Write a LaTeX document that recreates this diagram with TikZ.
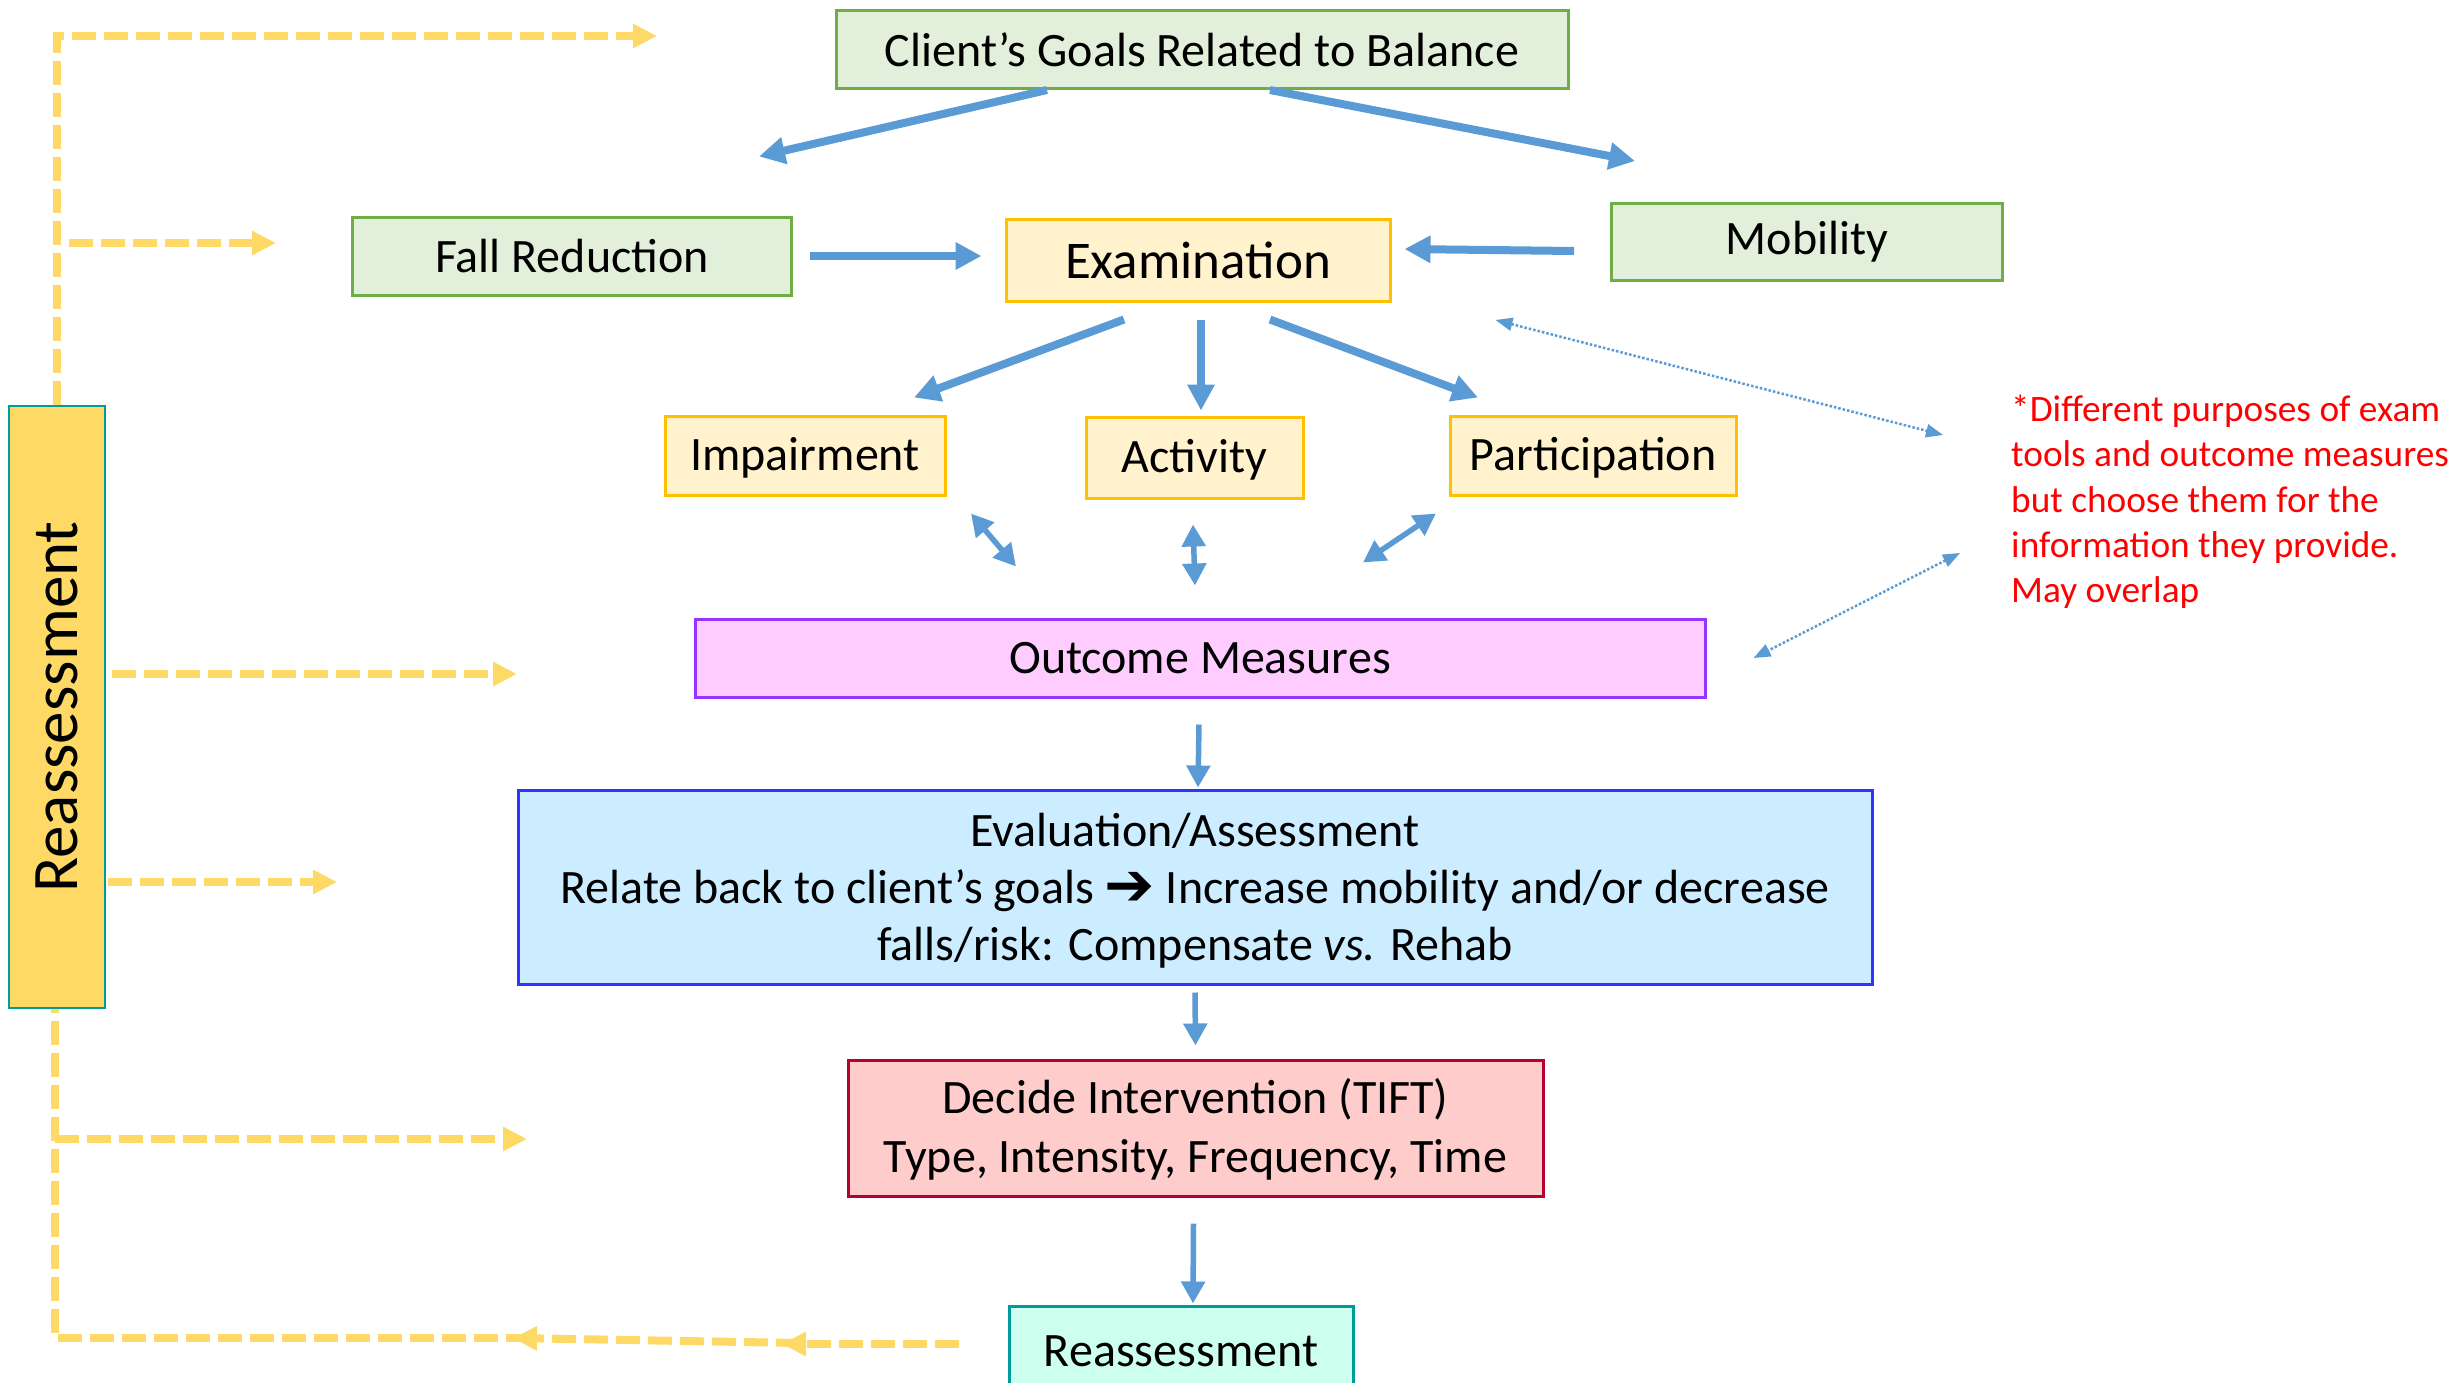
\documentclass[tikz,border=0pt]{standalone}
\usepackage{fontspec}
\usepackage{graphicx}
\setmainfont{Carlito}
\newfontfamily\dejavu{DejaVu Sans}
\usetikzlibrary{arrows.meta,calc}
\definecolor{gfill}{HTML}{E2EFDA}
\definecolor{gdraw}{HTML}{70AD47}
\definecolor{yfill}{HTML}{FFF2CC}
\definecolor{ydraw}{HTML}{FFC000}
\definecolor{pfill}{HTML}{FFCCFF}
\definecolor{pdraw}{HTML}{9933FF}
\definecolor{bfill}{HTML}{CCECFF}
\definecolor{bdraw}{HTML}{3333FF}
\definecolor{rfill}{HTML}{FFCCCC}
\definecolor{rdraw}{HTML}{B8002E}
\definecolor{tfill}{HTML}{CCFFEE}
\definecolor{tdraw}{HTML}{009C99}
\definecolor{gold}{HTML}{FFD966}
\definecolor{ablue}{HTML}{5B9BD5}
\definecolor{notered}{HTML}{FF0000}
\tikzset{
  box/.style={draw, line width=3pt, inner sep=0pt, align=center,
    font=\fontsize{48pt}{58pt}\selectfont},
  greenbox/.style={box, fill=gfill, draw=gdraw},
  yellowbox/.style={box, fill=yfill, draw=ydraw},
  thickarr/.style={draw=ablue, line width=8pt, -{Triangle[length=26pt,width=26pt]}},
  thinarr/.style={draw=ablue, line width=5.5pt, -{Triangle[length=22pt,width=23pt]}},
  dblarr/.style={draw=ablue, line width=5.5pt, {Triangle[length=22pt,width=23pt]}-{Triangle[length=22pt,width=23pt]}},
  dotarr/.style={draw=ablue, line width=2.5pt, dash pattern=on 2.5pt off 2pt,
    {Triangle[length=17pt,width=13pt]}-{Triangle[length=17pt,width=13pt]}},
  ydash/.style={draw=gold, line width=8pt, dash pattern=on 24pt off 8pt,
    -{Triangle[length=24pt,width=23pt]}},
  yline/.style={draw=gold, line width=8pt, dash pattern=on 24pt off 8pt},
}
\begin{document}
\begin{tikzpicture}[x=1pt,y=-1pt]
\useasboundingbox (0,0) rectangle (2458,1382);
\clip (0,0) rectangle (2458,1382);
\fill[white] (0,0) rectangle (2458,1382);

% nodes
\node[greenbox, minimum width=732, minimum height=78] (goals) at (1202,49.5) {Client’s Goals Related to Balance};
\node[greenbox, minimum width=439, minimum height=78] (fall) at (572,256) {Fall Reduction};
\node[yellowbox, minimum width=384, minimum height=82, font=\fontsize{53pt}{60pt}\selectfont] (exam) at (1198,260) {Examination};
\node[greenbox, minimum width=391, minimum height=77] (mob) at (1807,242) {Mobility};
\node[yellowbox, minimum width=280, minimum height=79, text depth=3pt] (imp) at (805,455.5) {Impairment};
\node[yellowbox, minimum width=217, minimum height=81, text depth=3pt] (act) at (1194.5,457.5) {Activity};
\node[yellowbox, minimum width=286, minimum height=79, text depth=3pt] (part) at (1593,455.5) {Participation};
\node[box, fill=pfill, draw=pdraw, minimum width=1010, minimum height=78] (out) at (1200,658) {Outcome Measures};
\node[box, fill=bfill, draw=bdraw, minimum width=1354, minimum height=194, font=\fontsize{48pt}{57pt}\selectfont] (eval) at (1195,887)
  {\rule{0pt}{40pt}Evaluation/Assessment\\Relate back to client’s goals {\dejavu\bfseries\fontsize{60pt}{57pt}\selectfont\raisebox{-2pt}{➔}} Increase mobility and/or decrease\\falls/risk: Compensate \textit{vs.} Rehab};
\node[box, fill=rfill, draw=rdraw, minimum width=695, minimum height=136, font=\fontsize{48pt}{59pt}\selectfont] (dec) at (1195.5,1128)
  {\rule{0pt}{38pt}Decide Intervention (TIFT)\\Type, Intensity, Frequency, Time};
\node[box, fill=tfill, draw=tdraw, minimum width=344, minimum height=90] (reass) at (1181,1351) {Reassessment};
\node[box, fill=gold, draw=tdraw, line width=2.5pt, minimum width=96, minimum height=602] (lreass) at (57,707)
  {\rotatebox{90}{\fontsize{65pt}{70pt}\selectfont Reassessment}};
\node[anchor=west, align=left, inner sep=0pt, text=notered, font=\fontsize{37.3pt}{45.3pt}\selectfont] (note) at (2011,502)
  {*Different purposes of exam\\tools and outcome measures\\but choose them for the\\information they provide.\\May overlap};

% blue connectors
\draw[thickarr] ($(goals.south)+(-155,0)$) -- ($(fall.north)+(187,-59)$);
\draw[thickarr] ($(goals.south)+(68,0)$) -- ($(mob.north)+(-172,-41)$);
\draw[thickarr] ($(fall.east)+(17,0)$) -- ($(exam.west)+(-23,-4)$);
\draw[thickarr] ($(mob.west)+(-36,9)$) -- ($(exam.east)+(13,-11)$);
\draw[thickarr] ($(exam.south)+(-74,17)$) -- ($(imp.north)+(109,-17)$);
\draw[thickarr] ($(exam.south)+(3,17)$) -- ($(act.north)+(6.5,-5)$);
\draw[thickarr] ($(exam.south)+(72,17)$) -- ($(part.north)+(-115,-17)$);
\draw[dblarr] ($(imp.south)+(166,17)$) -- ($(out.north)+(-184,-51)$);
\draw[dblarr] ($(act.south)+(-1.5,25)$) -- ($(out.north)+(-5,-32)$);
\draw[dblarr] ($(part.south)+(-157,17)$) -- ($(out.north)+(163,-55)$);
\draw[thinarr] ($(out.south)+(-1,26)$) -- ($(eval.north)+(3,-1)$);
\draw[thinarr] ($(eval.south)+(0,7)$) -- ($(dec.north)+(0,-13)$);
\draw[thinarr] ($(dec.south)+(-2,26)$) -- ($(reass.north)+(12,-1)$);

% dotted connectors to the note
\draw[dotarr] ($(exam.east)+(104,60)$) -- ($(note.west)+(-68,-67)$);
\draw[dotarr] ($(note.west)+(-51,51)$) -- ($(out.east)+(47,0)$);

% yellow reassessment loop
\coordinate (yt) at (657,36);
\coordinate (yb1) at (276,243);
\coordinate (yr1) at (517,674);
\coordinate (yr2) at (337,882);
\coordinate (yl1) at (527,1139);
\coordinate (ya) at (782,1344);
\coordinate (yb) at (513,1338);
\draw[ydash] (lreass.north) |- (yt);
\draw[ydash] ($(lreass.north |- yb1)+(12,0)$) -- (yb1);
\draw[ydash] ($(lreass.east |- yr1)+(6,0)$) -- (yr1);
\draw[ydash] ($(lreass.east |- yr2)+(2,0)$) -- (yr2);
\draw[ydash] ($(reass.west)+(-49,-7)$) -- (ya);
\draw[ydash] ($(ya)+(18,-1)$) -- (yb);
\draw[yline] ($(yb)+(17,0)$) -| ($(lreass.south)+(-2,0)$);
\draw[ydash] ($(lreass.south |- yl1)+(-2,0)$) -- (yl1);
\end{tikzpicture}
\end{document}
